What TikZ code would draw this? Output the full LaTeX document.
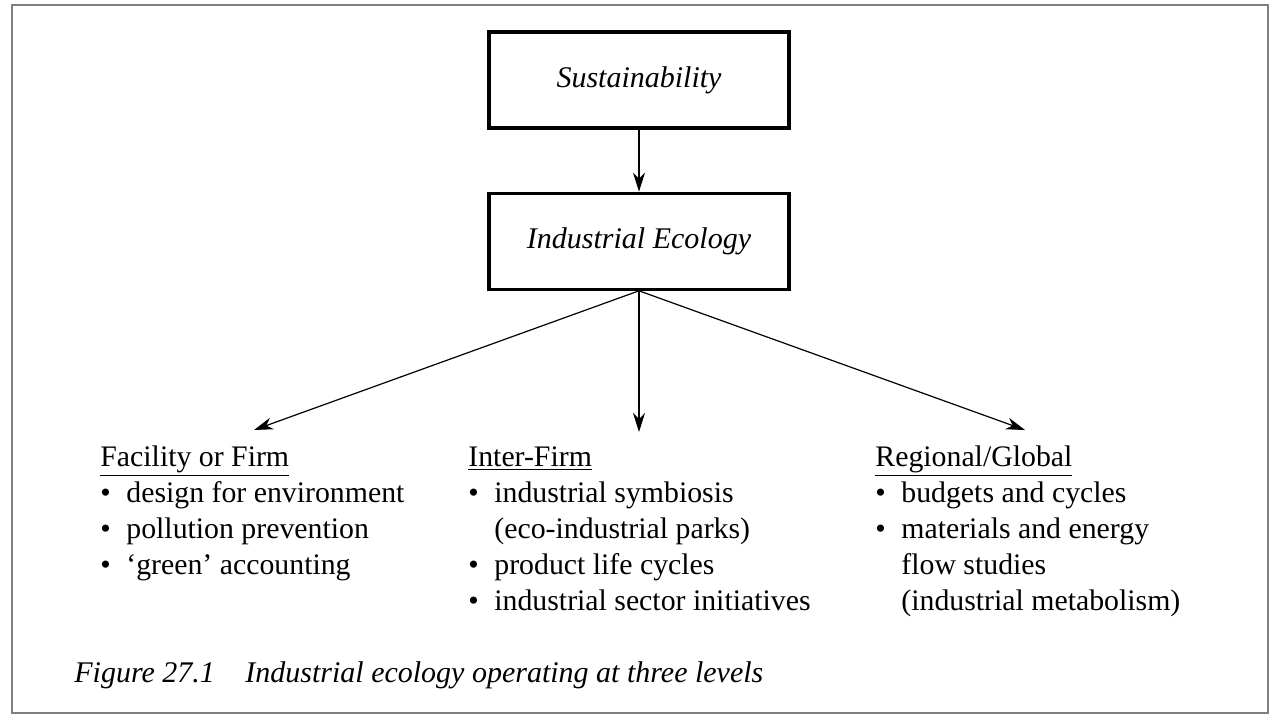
\documentclass[tikz,border=0pt]{standalone}
\usepackage{fontspec}
\setmainfont{Liberation Serif}
\usetikzlibrary{arrows.meta,positioning}

\newcommand\itm{\makebox[13pt][l]{\textbullet}}
\newcommand\cnt{\hspace*{13pt}}

\begin{document}
\begin{tikzpicture}[
    x=0.5pt, y=-0.5pt,
    >={Stealth[length=9.5pt,width=6pt,inset=3pt]},
    box/.style={draw,
      line width=1.6pt,
      minimum width=150pt,
      minimum height=48pt,
      font=\fontsize{15}{18}\selectfont\itshape},
    level/.style={anchor=base west, inner sep=0pt,
      font=\fontsize{14.9}{18}\selectfont},
    caption/.style={anchor=base west, inner sep=0pt,
      font=\fontsize{15}{18}\selectfont\itshape},
    link/.style={->, line width=0.6pt}
  ]
  \useasboundingbox (0,0) rectangle (1280,720);
  \draw[gray, line width=0.7pt] (12,5) rectangle (1268,713);

  \node[box] (sust) at (639,80) {Sustainability};
  \node[box, below=31pt of sust] (ie) {Industrial Ecology};

  % the three levels
  \node[level] (firm) at (100,466) {\begin{tabular}[t]{@{}l@{}}
    \underline{Facility or Firm}\\
    \itm design for environment\\
    \itm pollution prevention\\
    \itm `green' accounting
  \end{tabular}};
  \node[level] (inter) at (468,466) {\begin{tabular}[t]{@{}l@{}}
    \underline{Inter-Firm}\\
    \itm industrial symbiosis\\
    \cnt (eco-industrial parks)\\
    \itm product life cycles\\
    \itm industrial sector initiatives
  \end{tabular}};
  \node[level] (region) at (875,466) {\begin{tabular}[t]{@{}l@{}}
    \underline{Regional/Global}\\
    \itm budgets and cycles\\
    \itm materials and energy\\
    \cnt flow studies\\
    \cnt (industrial metabolism)
  \end{tabular}};

  \coordinate (firmtip) at (254,430);
  \coordinate (intertip) at (639,432);
  \coordinate (regiontip) at (1025,430);

  \draw[link] (sust) -- (ie);
  \draw[link] (ie.south) -- (firmtip);
  \draw[link] (ie.south) -- (intertip);
  \draw[link] (ie.south) -- (regiontip);

  \node[caption] (fig) at (74,682) {Figure 27.1};
  \node[caption] (cap) at (245,682) {Industrial ecology operating at three levels};
\end{tikzpicture}
\end{document}
